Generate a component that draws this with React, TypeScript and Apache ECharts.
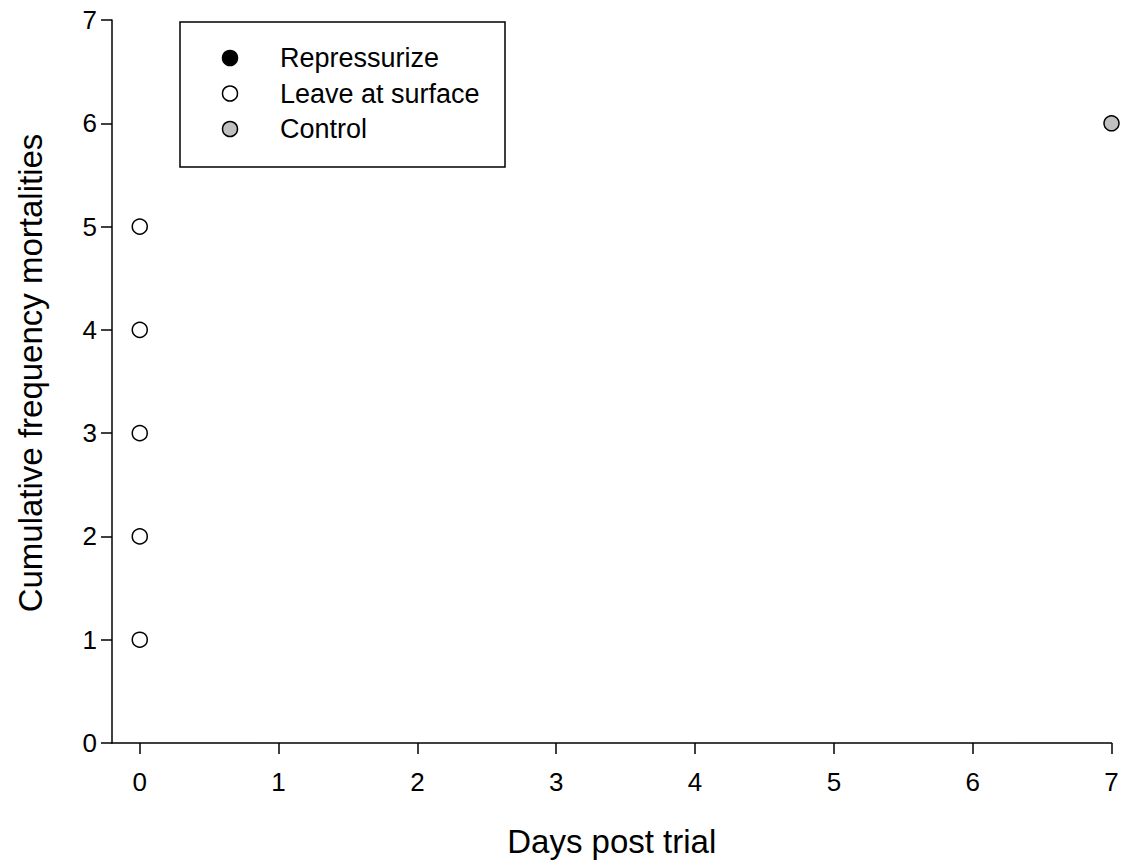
import React, { useEffect, useRef } from "react";
import * as echarts from "echarts";

const seriesNames = ["Repressurize", "Leave at surface", "Control"];
const seriesFill = ["#000000", "#ffffff", "#c0c0c0"];
const repressurize: number[][] = [];
const leaveAtSurface: number[][] = [
  [0, 1],
  [0, 2],
  [0, 3],
  [0, 4],
  [0, 5],
];
const control: number[][] = [[7, 6]];
const xTicks = [0, 1, 2, 3, 4, 5, 6, 7];
const xTitle = "Days post trial";
const yTitle = "Cumulative frequency mortalities";

const FONT = "'Liberation Sans', Arial, Helvetica, sans-serif";

export default function App() {
  const ref = useRef<HTMLDivElement>(null);
  useEffect(() => {
    if (!ref.current) return;
    const chart = echarts.init(ref.current, null, { renderer: "svg" });
    const data = [repressurize, leaveAtSurface, control];
    const legendX = 230;
    const legendY0 = 58;
    const legendStep = 35.5;
    const graphics: any[] = [
      {
        type: "rect",
        shape: { x: 180, y: 22, width: 325, height: 145 },
        style: { fill: "#fff", stroke: "#000", lineWidth: 1.5 },
        z: 10,
      },
      {
        type: "text",
        x: 30,
        y: 373,
        rotation: Math.PI / 2,
        style: {
          text: yTitle,
          fill: "#000",
          font: `33px ${FONT}`,
          textAlign: "center",
          textVerticalAlign: "middle",
        },
        z: 11,
      },
    ];
    seriesNames.forEach((n, i) => {
      graphics.push({
        type: "circle",
        shape: { cx: legendX, cy: legendY0 + i * legendStep, r: 7.5 },
        style: { fill: seriesFill[i], stroke: "#000", lineWidth: 1.5 },
        z: 11,
      });
      graphics.push({
        type: "text",
        x: 280,
        y: legendY0 + i * legendStep,
        style: {
          text: n,
          fill: "#000",
          font: `27px ${FONT}`,
          textAlign: "left",
          textVerticalAlign: "middle",
        },
        z: 11,
      });
    });
    chart.setOption({
      animation: false,
      backgroundColor: "#fff",
      grid: { left: 112, right: 14.5, top: 20, bottom: 121, containLabel: false },
      xAxis: {
        type: "value",
        min: -0.2,
        max: 7,
        name: xTitle,
        nameLocation: "middle",
        nameGap: 82,
        nameTextStyle: { fontSize: 33, color: "#000", fontFamily: FONT },
        axisLine: { show: true, onZero: false, lineStyle: { color: "#000", width: 1.5 } },
        axisTick: {
          show: true,
          inside: false,
          length: 11,
          customValues: xTicks,
          lineStyle: { color: "#000", width: 1.5 },
        },
        axisLabel: {
          customValues: xTicks,
          fontSize: 26,
          color: "#000",
          fontFamily: FONT,
          margin: 26,
        },
        splitLine: { show: false },
      },
      yAxis: {
        type: "value",
        min: 0,
        max: 7,
        interval: 1,
        axisLine: { show: true, onZero: false, lineStyle: { color: "#000", width: 1.5 } },
        axisTick: { show: true, inside: false, length: 11, lineStyle: { color: "#000", width: 1.5 } },
        axisLabel: { fontSize: 26, color: "#000", fontFamily: FONT, margin: 15 },
        splitLine: { show: false },
      },
      series: seriesNames.map((n, i) => ({
        name: n,
        type: "scatter",
        data: data[i],
        symbol: "circle",
        symbolSize: 15,
        itemStyle: { color: seriesFill[i], borderColor: "#000", borderWidth: 1.5, opacity: 1 },
        z: 5,
      })),
      graphic: graphics,
    });
    return () => chart.dispose();
  }, []);
  return (
    <div
      ref={ref}
      style={{ position: "absolute", left: 0, top: 0, width: 1126, height: 864 }}
    />
  );
}
